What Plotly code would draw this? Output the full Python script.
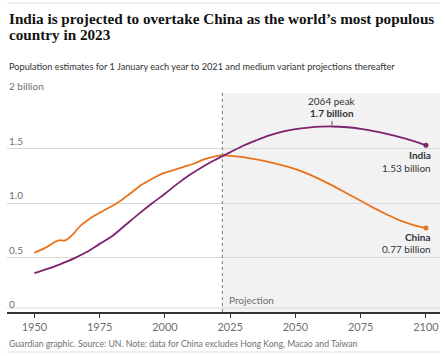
import plotly.graph_objects as go

# ---- data (billions) ----
china_years = [1950, 1952, 1955, 1958, 1959, 1960, 1961, 1962, 1963, 1965, 1968, 1970, 1972,
               1975, 1978, 1980, 1983, 1985, 1988, 1990, 1992, 1995, 1999, 2003, 2007, 2011,
               2015, 2018, 2020, 2022, 2025, 2030, 2035, 2040, 2045, 2050, 2055, 2060, 2065,
               2070, 2075, 2080, 2085, 2090, 2095, 2100]
china_pop = [0.542, 0.565, 0.60, 0.645, 0.655, 0.66, 0.655, 0.66, 0.675, 0.72, 0.80, 0.835, 0.87,
             0.91, 0.95, 0.975, 1.02, 1.056, 1.11, 1.15, 1.18, 1.22, 1.27, 1.30, 1.33, 1.36,
             1.40, 1.42, 1.432, 1.438, 1.432, 1.42, 1.40, 1.375, 1.345, 1.31, 1.265, 1.21, 1.15,
             1.085, 1.02, 0.955, 0.895, 0.84, 0.80, 0.77]

india_years = [1950, 1955, 1960, 1965, 1970, 1975, 1980, 1985, 1990, 1995, 2000, 2005, 2010,
               2015, 2020, 2022, 2025, 2030, 2035, 2040, 2045, 2050, 2055, 2060, 2064, 2070,
               2075, 2080, 2085, 2090, 2095, 2100]
india_pop = [0.357, 0.395, 0.44, 0.49, 0.55, 0.625, 0.70, 0.80, 0.90, 0.995, 1.085, 1.18, 1.265,
             1.34, 1.405, 1.43, 1.465, 1.525, 1.575, 1.62, 1.655, 1.678, 1.692, 1.70, 1.702, 1.695,
             1.68, 1.66, 1.635, 1.605, 1.57, 1.53]

x_ticks = [1950, 1975, 2000, 2025, 2050, 2075, 2100]
y_ticks = [0, 0.5, 1.0, 1.5, 2.0]
y_tick_labels = ["0", "0.5", "1.0", "1.5", "2 billion"]

projection_start = 2022
peak_year, peak_value = 2064, 1.7

INDIA = "#7f2270"
CHINA = "#e8731f"
GREY_TXT = "#6f6f6f"
DARK_TXT = "#333333"
SANS = "Lato, Open Sans, sans-serif"
SERIF = "Liberation Serif, serif"

W, H = 445, 356
L, R, T, B = 7, 5, 94, 44
PW, PH = W - L - R, H - T - B
XMIN, XMAX = 1939.5, 2105.4
YMIN, YMAX = 0.0, 2.0


def px(xp):
    return (xp - L) / PW


def py(yp):
    return (H - B - yp) / PH


fig = go.Figure()

# projection shading
fig.add_shape(type="rect", xref="x", yref="paper", x0=projection_start, x1=XMAX, y0=0, y1=1.005,
              fillcolor="#f2f2f2", line_width=0, layer="below")
fig.add_shape(type="line", xref="x", yref="paper", x0=projection_start, x1=projection_start,
              y0=0, y1=1.005, line=dict(color="#777777", width=1, dash="dot"))

fig.add_trace(go.Scatter(x=china_years, y=china_pop, mode="lines", line=dict(color=CHINA, width=1.8),
                         line_shape="spline", hoverinfo="skip", showlegend=False))
fig.add_trace(go.Scatter(x=india_years, y=india_pop, mode="lines", line=dict(color=INDIA, width=1.8),
                         line_shape="spline", hoverinfo="skip", showlegend=False))
fig.add_trace(go.Scatter(x=[china_years[-1]], y=[china_pop[-1]], mode="markers",
                         marker=dict(color=CHINA, size=5), hoverinfo="skip", showlegend=False))
fig.add_trace(go.Scatter(x=[india_years[-1]], y=[india_pop[-1]], mode="markers",
                         marker=dict(color=INDIA, size=5), hoverinfo="skip", showlegend=False))

# light line just above baseline
fig.add_shape(type="line", xref="paper", yref="paper", x0=0, x1=1, y0=py(308), y1=py(308),
              line=dict(color="#dcdcdc", width=1))

# peak tick
fig.add_shape(type="line", xref="x", yref="paper", x0=peak_year, x1=peak_year,
              y0=py(125), y1=py(121), line=dict(color="#555555", width=1))

ann = []
# y tick labels above gridlines
for v, t in zip(y_ticks, y_tick_labels):
    ann.append(dict(x=0, y=v, xref="paper", yref="y", text=t, showarrow=False, xanchor="left",
                    yanchor="middle", yshift=8, font=dict(family=SANS, size=10, color=GREY_TXT)))


def txt(x, y, text, size, color, family=SANS, xanchor="left", xref="paper"):
    ann.append(dict(x=x, y=py(y), xref=xref, yref="paper", text=text, showarrow=False,
                    xanchor=xanchor, yanchor="middle", font=dict(family=family, size=size, color=color)))


txt(px(7), 18, "<b>India is projected to overtake China as the world’s most populous</b>", 15.2, "#121212", SERIF)
txt(px(7), 34, "<b>country in 2023</b>", 15.2, "#121212", SERIF)
txt(px(7), 66, "Population estimates for 1 January each year to 2021 and medium variant projections thereafter",
    9.2, DARK_TXT)
txt(px(7), 343, "Guardian graphic. Source: UN. Note: data for China excludes Hong Kong, Macao and Taiwan",
    8.7, GREY_TXT)

txt(peak_year, 101, "2064 peak", 10, DARK_TXT, xanchor="center", xref="x")
txt(peak_year, 113, "<b>1.7 billion</b>", 10, DARK_TXT, xanchor="center", xref="x")
txt(px(433), 155, "<b>India</b>", 10, DARK_TXT, xanchor="right")
txt(px(433), 168, "1.53 billion", 10, DARK_TXT, xanchor="right")
txt(px(433), 237, "<b>China</b>", 10, DARK_TXT, xanchor="right")
txt(px(433), 249, "0.77 billion", 10, DARK_TXT, xanchor="right")
txt(px(227), 300, "Projection", 10, GREY_TXT)

for yy in (3, 352):
    fig.add_shape(type="line", xref="paper", yref="paper", x0=0, x1=1, y0=py(yy), y1=py(yy),
                  line=dict(color="#dcdcdc", width=1))

fig.update_layout(
    width=W, height=H, margin=dict(l=L, r=R, t=T, b=B),
    paper_bgcolor="white", plot_bgcolor="white",
    annotations=ann,
    xaxis=dict(range=[XMIN, XMAX], tickvals=x_ticks, ticks="outside", ticklen=4, tickcolor="#333333",
               showgrid=False, showline=True, linecolor="#333333", linewidth=2, zeroline=False,
               tickfont=dict(family=SANS, size=11, color=GREY_TXT), fixedrange=True),
    yaxis=dict(range=[YMIN, YMAX], tickvals=y_ticks, showticklabels=False, showgrid=True,
               gridcolor="#d9d9d9", gridwidth=1, zeroline=False, fixedrange=True),
)

fig.write_html("out.html", config={"displayModeBar": False},
               post_script="document.body.style.margin='0';")
